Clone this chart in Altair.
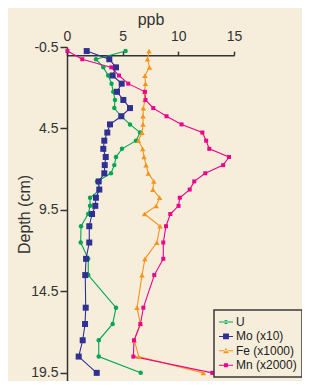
import altair as alt
import pandas as pd

# ---- data ----
depth = [-0.25, 0.25, 0.75, 1.25, 1.75, 2.25, 2.75, 3.25, 3.75, 4.25,
         4.75, 5.25, 5.75, 6.25, 6.75, 7.25, 7.75, 8.25, 8.75, 9.25,
         9.75, 10.5, 11.5, 12.5, 13.5, 15.5, 16.5, 17.5, 18.5, 19.5]
u_vals = [5.26, 2.6, 3.26, 3.7, 4.0, 4.16, 4.31, 4.25, 4.85, 5.66,
          6.56, 6.2, 4.94, 4.4, 4.25, 3.95, 2.7, 2.96, 2.07, 2.07,
          1.9, 1.26, 1.23, 1.91, 1.91, 4.4, 4.1, 2.85, 2.85, 6.62]
mo_vals = [1.77, 3.8, 4.4, 4.1, 4.91, 4.49, 5.06, 5.66, 4.88, 3.86,
           3.62, 3.35, 3.26, 3.48, 3.39, 3.35, 2.85, 2.9, 2.6, 2.54,
           2.25, 2.0, 2.0, 1.71, 1.64, 1.68, 1.62, 1.41, 1.05, 2.67]
fe_vals = [7.37, 7.23, 7.41, 7.0, 7.05, 6.96, 7.0, 6.86, 6.83, 6.83,
           6.74, 6.42, 6.8, 6.92, 7.1, 7.3, 7.8, 7.71, 8.32, 8.01,
           6.96, 8.36, 8.07, 7.0, 6.74, 6.29, 6.59, 6.05, 6.44, 12.25]
mn_vals = [0.04, 1.37, 3.98, 4.67, 5.5, 7.0, 7.05, 7.75, 8.94, 10.29,
           12.16, 12.5, 12.78, 14.55, 14.03, 12.42, 11.43, 11.02, 10.13, 10.02,
           9.28, 8.89, 8.65, 8.65, 7.84, 6.86, 6.59, 6.02, 5.96, 13.05]

series_names = ["U", "Mo (x10)", "Fe (x1000)", "Mn (x2000)"]
x_ticks = [0, 5, 10, 15]
y_ticks = [-0.5, 4.5, 9.5, 14.5, 19.5]

# ---- styles ----
colors = ["#00A651", "#2E3192", "#F7941D", "#EC008C"]
shapes = ["circle", "square", "triangle-up", "square"]
sizes = [20, 36, 30, 16]
LINE = "M-1,-0.075L1,-0.075L1,0.075L-1,0.075Z"
legend_paths = [
    LINE + "M-0.3,0A0.3,0.3,0,1,0,0.3,0A0.3,0.3,0,1,0,-0.3,0Z",
    LINE + "M-0.42,-0.42L0.42,-0.42L0.42,0.42L-0.42,0.42Z",
    LINE + "M-0.42,0.34L0.42,0.34L0,-0.42Z",
    LINE + "M-0.28,-0.28L0.28,-0.28L0.28,0.28L-0.28,0.28Z",
]
BG = "#F6EEDB"
INK = "#333333"

rows = []
for name, vals in zip(series_names, [u_vals, mo_vals, fe_vals, mn_vals]):
    for d, v in zip(depth, vals):
        rows.append({"series": name, "depth": d, "ppb": v})
df = pd.DataFrame(rows)

x_enc = alt.X(
    "ppb:Q",
    scale=alt.Scale(domain=[0, 15], nice=False, zero=False),
    axis=alt.Axis(orient="top", values=x_ticks, title="ppb", offset=-8.15,
                  tickSize=4, labelPadding=8, titlePadding=2, grid=False,
                  labelFontSize=14, titleFontSize=16, labelFlush=False),
)
y_enc = alt.Y(
    "depth:Q",
    scale=alt.Scale(domain=[-0.5, 20], reverse=True, nice=False, zero=False),
    axis=alt.Axis(values=y_ticks, title="Depth (cm)",
                  labelExpr="datum.value < 0 ? '-' + format(-datum.value, '.1f') : format(datum.value, '.1f')",
                  tickSize=7, labelPadding=2, titlePadding=-2, grid=False,
                  labelFontSize=14, titleFontSize=16),
)

base = alt.Chart(df)
layers = []
for name, c in zip(series_names, colors):
    layers.append(
        base.transform_filter(alt.datum.series == name)
        .mark_line(color=c, strokeWidth=1.1)
        .encode(x=x_enc, y=y_enc, order=alt.Order("depth:Q"))
    )
for name, c, s, sz in zip(series_names, colors, shapes, sizes):
    layers.append(
        base.transform_filter(alt.datum.series == name)
        .mark_point(filled=True, shape=s, size=sz, color=c, opacity=1)
        .encode(x=x_enc, y=y_enc)
    )

leg = alt.Legend(
    title=None, orient="none", legendX=147, legendY=263,
    fillColor=BG, strokeColor="#3a3a3a", padding=5,
    labelFont="Liberation Sans", labelFontSize=12, labelColor="#222222",
    symbolSize=196, symbolStrokeWidth=0, symbolOpacity=1,
    rowPadding=1.4, labelOffset=3,
)
legend_layer = base.mark_point(filled=True, opacity=0).encode(
    x=x_enc, y=y_enc,
    fill=alt.Fill("series:N", scale=alt.Scale(domain=series_names, range=colors),
                  legend=leg, sort=series_names),
    shape=alt.Shape("series:N", scale=alt.Scale(domain=series_names, range=legend_paths),
                    legend=leg, sort=series_names),
)
layers.append(legend_layer)

chart = (
    alt.layer(*layers)
    .properties(
        width=167, height=334, background=BG,
        padding={"left": 59, "top": 39, "right": 68, "bottom": 0},
        autosize=alt.AutoSizeParams(type="none"),
    )
    .configure_view(stroke=None)
    .configure_axis(
        labelFont="Liberation Sans", titleFont="Liberation Sans",
        labelColor=INK, titleColor=INK, titleFontWeight="normal",
        domainColor=INK, tickColor=INK, domainWidth=1.5, tickWidth=1.5,
    )
    .configure_legend(strokeWidth=1.5)
)

chart.save("out.html", embed_options={"renderer": "svg", "actions": False})
